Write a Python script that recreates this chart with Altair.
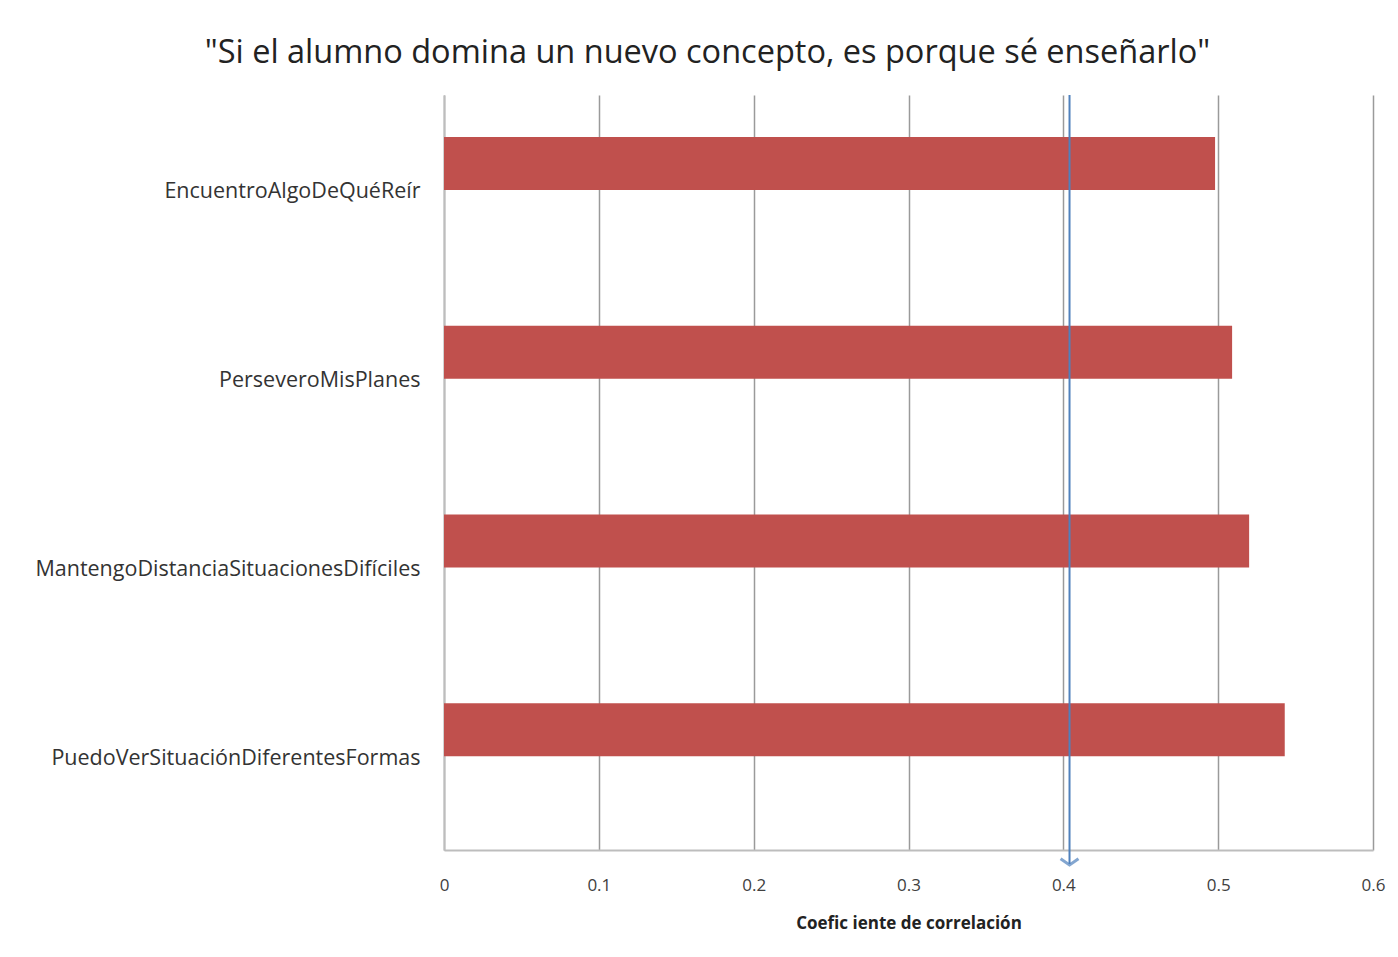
import altair as alt
import pandas as pd

categories = [
    "EncuentroAlgoDeQuéReír",
    "PerseveroMisPlanes",
    "MantengoDistanciaSituacionesDifíciles",
    "PuedoVerSituaciónDiferentesFormas",
]
values = [0.498, 0.509, 0.520, 0.543]
threshold = [0.404]

df = pd.DataFrame({"item": categories, "coef": values})
ref = pd.DataFrame({"coef": threshold})

FONT = "Open Sans"
W, H = 929, 755

x_scale = alt.Scale(domain=[0, 0.6], nice=False)
y_scale = alt.Scale(domain=categories, paddingInner=0, paddingOuter=0)

bars = alt.Chart(df).mark_bar(color="#C0504D", size=53, yOffset=-26).encode(
    x=alt.X("coef:Q", scale=x_scale,
            axis=alt.Axis(title="Coefic iente de correlación", values=[0, 0.1, 0.2, 0.3, 0.4, 0.5, 0.6],
                          format=".1~f", grid=True, gridColor="#9a9a9a", gridWidth=1.5,
                          domainColor="#bdbdbd", domainWidth=2, ticks=False, labelFlush=False,
                          labelPadding=27, labelFontSize=17, labelColor="#404040", labelFont=FONT,
                          titleFont=FONT, titleFontSize=17, titleFontWeight="bold", titleColor="#222222",
                          titlePadding=22)),
    y=alt.Y("item:N", scale=y_scale, sort=categories,
            axis=alt.Axis(title=None, ticks=False, domainColor="#bdbdbd", domainWidth=2,
                          labelPadding=24, labelFontSize=21.5, labelColor="#333333", labelFont=FONT,
                          labelLimit=600, labelBaseline="middle", labelOffset=3)),
)

rule = alt.Chart(ref).mark_rule(color="#4F81BD", strokeWidth=2).encode(
    x=alt.X("coef:Q", scale=x_scale),
    y=alt.value(0),
    y2=alt.value(H + 14),
)

arrow = alt.Chart(ref).mark_point(
    shape="M-1,-0.7L0,0L1,-0.7", filled=False, stroke="#4F81BD", strokeWidth=3, size=320,
).encode(
    x=alt.X("coef:Q", scale=x_scale),
    y=alt.value(H + 15),
)

chart = alt.layer(bars, rule, arrow).properties(
    width=W,
    height=H,
    autosize=alt.AutoSizeParams(type="none"),
    padding={"left": 436, "top": 87, "right": 17, "bottom": 100},
    title=alt.TitleParams(
        text='"Si el alumno domina un nuevo concepto, es porque sé enseñarlo"',
        font=FONT, fontSize=32.5, fontWeight="normal", color="#222222",
        anchor="middle", dx=-201, offset=25,
    ),
).configure(background="white").configure_view(stroke=None)

chart.save("out.html", embed_options={"renderer": "svg", "actions": False})
